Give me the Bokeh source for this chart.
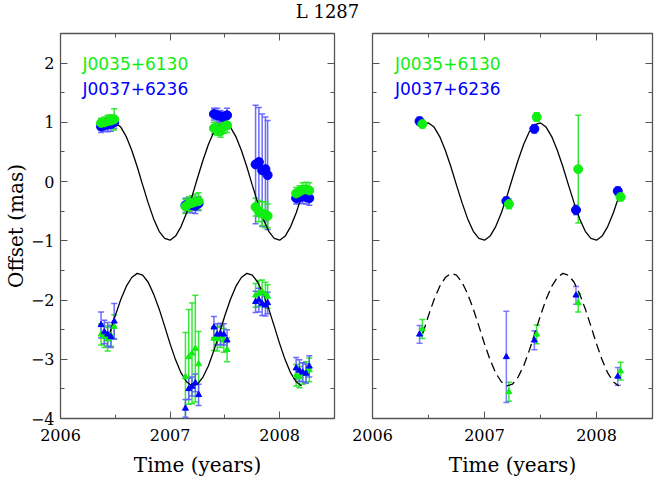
from bokeh.plotting import figure
from bokeh.layouts import column, row
from bokeh.models import (ColumnDataSource, Whisker, TeeHead, Label, LinearAxis,
                          Range1d, SingleIntervalTicker, CustomJSTickFormatter)
from bokeh.embed import file_html
from bokeh.resources import INLINE

TITLE = "L 1287"
SRC_A = "J0035+6130"
SRC_B = "J0037+6236"
X_LABEL = "Time (years)"
Y_LABEL = "Offset (mas)"

# model curves
curve_t = [2006.45, 2006.50, 2006.55, 2006.60, 2006.65, 2006.70, 2006.75, 2006.80, 2006.85,
           2006.90, 2006.95, 2007.00, 2007.05, 2007.10, 2007.15, 2007.20, 2007.25, 2007.30,
           2007.35, 2007.40, 2007.45, 2007.50, 2007.55, 2007.60, 2007.65, 2007.70, 2007.75,
           2007.80, 2007.85, 2007.90, 2007.95, 2008.00, 2008.05, 2008.10, 2008.15, 2008.20]
curve_top = [0.96, 0.99, 0.92, 0.76, 0.53, 0.25, -0.06, -0.36, -0.63, -0.84, -0.96, -0.99,
             -0.92, -0.76, -0.53, -0.25, 0.06, 0.36, 0.63, 0.84, 0.96, 0.99, 0.92, 0.76,
             0.53, 0.25, -0.06, -0.36, -0.63, -0.84, -0.96, -0.99, -0.92, -0.76, -0.53, -0.25]
curve_bot = [-2.56, -2.26, -1.99, -1.77, -1.62, -1.55, -1.58, -1.70, -1.90, -2.15, -2.44,
             -2.74, -3.01, -3.23, -3.38, -3.45, -3.42, -3.30, -3.11, -2.85, -2.56, -2.26,
             -1.99, -1.77, -1.62, -1.55, -1.58, -1.70, -1.90, -2.15, -2.44, -2.74, -3.01,
             -3.23, -3.38, -3.45]

# left panel: individual epochs
ep_t = [2006.37, 2006.40, 2006.43, 2006.46, 2006.49,
        2007.14, 2007.17, 2007.20, 2007.23, 2007.26,
        2007.40, 2007.43, 2007.46, 2007.49, 2007.52,
        2007.78, 2007.81, 2007.84, 2007.87, 2007.89,
        2008.15, 2008.18, 2008.21, 2008.24, 2008.27]
a_ra = [0.99, 1.00, 1.02, 1.03, 1.05, -0.42, -0.38, -0.36, -0.34, -0.33,
        0.90, 0.88, 0.85, 0.93, 0.95, -0.43, -0.50, -0.54, -0.56, -0.58,
        -0.20, -0.17, -0.14, -0.13, -0.15]
a_ra_err = [0.08, 0.09, 0.10, 0.10, 0.18, 0.12, 0.12, 0.12, 0.13, 0.14,
            0.10, 0.10, 0.10, 0.12, 0.12, 0.15, 0.18, 0.20, 0.22, 0.20,
            0.10, 0.10, 0.12, 0.12, 0.13]
b_ra = [0.93, 0.95, 0.96, 0.97, 1.00, -0.40, -0.39, -0.40, -0.41, -0.37,
        1.14, 1.12, 1.10, 1.08, 1.12, 0.29, 0.33, 0.19, 0.21, 0.11,
        -0.28, -0.27, -0.25, -0.26, -0.28]
b_ra_err = [0.10, 0.10, 0.12, 0.12, 0.10, 0.12, 0.12, 0.13, 0.13, 0.12,
            0.10, 0.12, 0.10, 0.10, 0.12, 1.00, 0.92, 0.95, 0.88, 0.92,
            0.10, 0.10, 0.12, 0.12, 0.12]
a_dec = [-2.58, -2.62, -2.66, -2.60, -2.45, -3.30, -2.96, -2.90, -2.82, -3.08,
         -2.65, -2.66, -2.62, -2.68, -2.84, -1.92, -1.89, -1.86, -1.90, -1.94,
         -3.27, -3.30, -3.24, -3.22, -3.18]
a_dec_err = [0.18, 0.18, 0.20, 0.18, 0.20, 0.75, 0.80, 0.85, 0.90, 0.55,
             0.20, 0.20, 0.18, 0.20, 0.20, 0.20, 0.22, 0.20, 0.20, 0.20,
             0.18, 0.18, 0.18, 0.18, 0.20]
b_dec = [-2.42, -2.54, -2.58, -2.62, -2.36, -3.83, -3.50, -3.46, -3.40, -3.60,
         -2.46, -2.58, -2.57, -2.58, -2.68, -2.03, -2.00, -2.06, -2.09, -2.05,
         -3.15, -3.19, -3.22, -3.24, -3.12]
b_dec_err = [0.22, 0.20, 0.20, 0.18, 0.30, 0.15, 0.18, 0.16, 0.15, 0.18,
             0.18, 0.18, 0.18, 0.18, 0.18, 0.18, 0.20, 0.20, 0.18, 0.18,
             0.18, 0.18, 0.16, 0.16, 0.18]

# right panel: averaged epochs
avg_t_a = [2006.445, 2007.218, 2007.466, 2007.837, 2008.215]
avg_t_b = [2006.420, 2007.195, 2007.445, 2007.817, 2008.190]
avg_a_ra = [0.97, -0.38, 1.09, 0.21, -0.26]
avg_a_ra_err = [0.06, 0.08, 0.07, 0.91, 0.06]
avg_b_ra = [1.02, -0.33, 0.89, -0.48, -0.16]
avg_b_ra_err = [0.07, 0.07, 0.07, 0.08, 0.07]
avg_a_dec = [-2.49, -3.55, -2.58, -2.05, -3.20]
avg_a_dec_err = [0.16, 0.16, 0.16, 0.15, 0.15]
avg_b_dec = [-2.58, -2.96, -2.68, -1.92, -3.29]
avg_b_dec_err = [0.15, 0.77, 0.16, 0.15, 0.15]

GREEN = "#11ee11"
GREEN_BAR = "#22e622"
BLUE = "#0000ff"
BLUE_BAR = "#5c5cff"
FRAME = "#555555"
SERIF = "DejaVu Serif"
SANS = "DejaVu Sans"

minus_fmt = "return tick < 0 ? '\\u2212' + (-tick) : '' + tick;"


def blank_axis():
    return LinearAxis(ticker=SingleIntervalTicker(interval=1, num_minor_ticks=2),
                      formatter=CustomJSTickFormatter(code="return '';"),
                      major_label_text_font_size="0px", major_label_standoff=0,
                      major_tick_in=7, major_tick_out=0, minor_tick_in=4, minor_tick_out=0,
                      major_tick_line_color=FRAME, minor_tick_line_color=FRAME,
                      axis_line_color=None)


def make_panel(width, left_border, right_border, show_ylabels):
    p = figure(width=width, height=455, x_range=Range1d(2006, 2008.5), y_range=Range1d(-4, 2.5),
               toolbar_location=None, output_backend="svg",
               min_border_top=7, min_border_bottom=63, min_border_left=left_border,
               min_border_right=right_border)
    p.grid.visible = False
    p.outline_line_color = FRAME
    p.outline_line_width = 1.3
    xa = p.xaxis[0]
    xa.ticker = SingleIntervalTicker(interval=1, num_minor_ticks=2)
    xa.formatter = CustomJSTickFormatter(code=minus_fmt)
    xa.axis_label = X_LABEL
    ya = p.yaxis[0]
    ya.ticker = SingleIntervalTicker(interval=1, num_minor_ticks=2)
    ya.formatter = CustomJSTickFormatter(code=minus_fmt if show_ylabels else "return '';")
    if show_ylabels:
        ya.axis_label = Y_LABEL
    for ax in (xa, ya):
        ax.axis_line_color = None
        ax.major_tick_in = 7
        ax.major_tick_out = 0
        ax.minor_tick_in = 4
        ax.minor_tick_out = 0
        ax.major_tick_line_color = FRAME
        ax.minor_tick_line_color = FRAME
        ax.axis_label_text_font = SERIF
        ax.axis_label_text_font_size = "20px"
        ax.axis_label_text_font_style = "normal"
        ax.axis_label_text_color = "black"
        ax.major_label_text_font = SERIF
        ax.major_label_text_color = "black"
        ax.major_label_text_font_size = "16px"
    if show_ylabels:
        ya.major_label_standoff = 6
        ya.axis_label_standoff = 0
    else:
        ya.major_label_text_font_size = "0px"
        ya.major_label_standoff = 0
    xa.major_label_standoff = 10
    xa.axis_label_standoff = 9
    p.add_layout(blank_axis(), "above")
    p.add_layout(blank_axis(), "right")
    p.add_layout(Label(x=2006.2, y=1.98, text=SRC_A, text_color=GREEN, text_font=SANS,
                       text_font_size="17px", text_baseline="middle"))
    p.add_layout(Label(x=2006.2, y=1.555, text=SRC_B, text_color=BLUE, text_font=SANS,
                       text_font_size="17px", text_baseline="middle"))
    return p


def add_series(p, t, y, e, color, bar_color, bar_alpha, marker, size):
    src = ColumnDataSource(dict(t=t, y=y,
                                lo=[v - d for v, d in zip(y, e)],
                                hi=[v + d for v, d in zip(y, e)]))
    w = Whisker(source=src, base="t", upper="hi", lower="lo", dimension="height",
                line_color=bar_color, line_alpha=bar_alpha, line_width=1.5, level="underlay",
                upper_head=TeeHead(size=6, line_color=bar_color, line_alpha=bar_alpha, line_width=1.5),
                lower_head=TeeHead(size=6, line_color=bar_color, line_alpha=bar_alpha, line_width=1.5))
    p.add_layout(w)
    p.scatter("t", "y", source=src, marker=marker, size=size, fill_color=color, line_color=color)


# left panel
p1 = make_panel(338, 44, 4, True)
p1.line(curve_t, curve_top, line_color="black", line_width=1.3)
p1.line(curve_t, curve_bot, line_color="black", line_width=1.3)
add_series(p1, ep_t, b_ra, b_ra_err, BLUE, BLUE_BAR, 0.9, "circle", 9)
add_series(p1, ep_t, a_ra, a_ra_err, GREEN, GREEN_BAR, 0.9, "circle", 9)
add_series(p1, ep_t, a_dec, a_dec_err, GREEN, GREEN_BAR, 0.9, "triangle", 6)
add_series(p1, ep_t, b_dec, b_dec_err, BLUE, BLUE_BAR, 0.9, "triangle", 6)

# right panel
p2 = make_panel(316, 34, 2, False)
p2.line(curve_t, curve_top, line_color="black", line_width=1.3)
p2.line(curve_t, curve_bot, line_color="black", line_width=1.3, line_dash="9 5")
add_series(p2, avg_t_b, avg_b_ra, avg_b_ra_err, BLUE, BLUE_BAR, 0.8, "circle", 9)
add_series(p2, avg_t_a, avg_a_ra, avg_a_ra_err, GREEN, GREEN_BAR, 0.9, "circle", 9)
add_series(p2, avg_t_a, avg_a_dec, avg_a_dec_err, GREEN, GREEN_BAR, 0.9, "triangle", 6)
add_series(p2, avg_t_b, avg_b_dec, avg_b_dec_err, BLUE, BLUE_BAR, 0.8, "triangle", 6)

# title strip
p0 = figure(width=654, height=26, x_range=Range1d(0, 654), y_range=Range1d(0, 26),
            x_axis_type=None, y_axis_type=None, toolbar_location=None,
            output_backend="svg", min_border=0)
p0.grid.visible = False
p0.outline_line_color = None
p0.add_layout(Label(x=327, y=26, text=TITLE, text_align="center", text_baseline="top",
                    text_font=SERIF, text_font_size="18px", text_color="black"))

layout = column(p0, row(p1, p2))
open("out.html", "w").write(file_html(layout, INLINE))
